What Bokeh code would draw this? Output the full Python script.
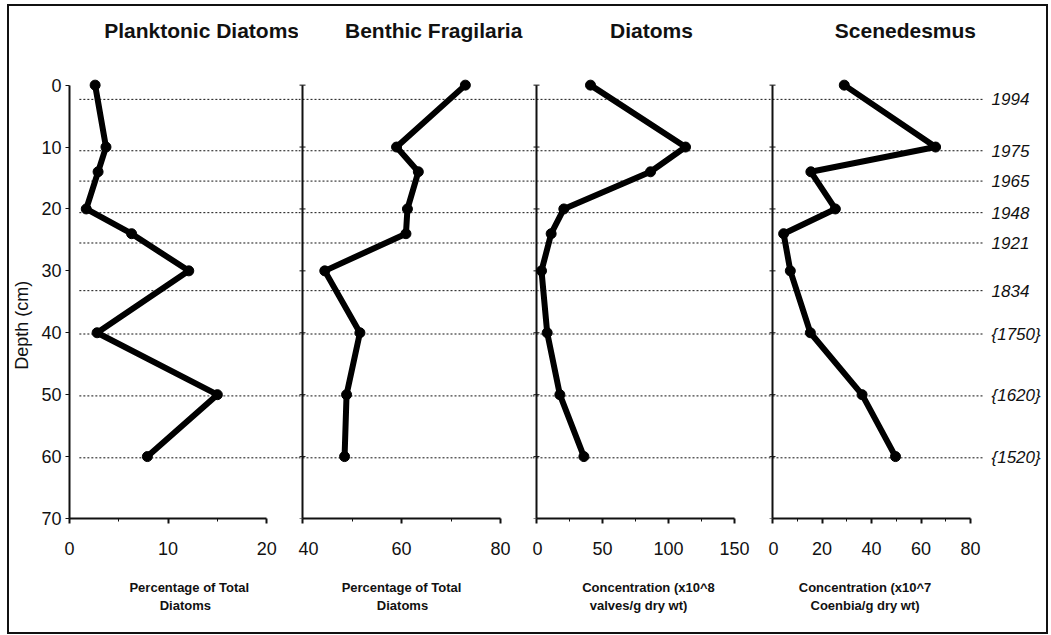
import math

from bokeh.core.properties import value
from bokeh.embed import file_html
from bokeh.layouts import column, row
from bokeh.models import FixedTicker, Range1d, Spacer
from bokeh.plotting import figure
from bokeh.resources import INLINE

# Core sample depths (cm), shared by all four profiles
depth = [0, 10, 14, 20, 24, 30, 40, 50, 60]

# Profile values at each depth
planktonic_pct = [2.6, 3.7, 2.9, 1.7, 6.3, 12.1, 2.8, 15.0, 7.9]
benthic_fragilaria_pct = [72.9, 59.0, 63.4, 61.2, 60.9, 44.5, 51.6, 48.9, 48.5]
diatom_conc = [40.9, 112.9, 86.4, 20.7, 11.1, 3.8, 8.1, 17.7, 35.9]
scenedesmus_conc = [29.0, 65.9, 15.5, 25.4, 4.5, 7.2, 15.3, 36.2, 49.7]

# Dated horizons (depth in cm) and their labels
date_labels = ["1994", "1975", "1965", "1948", "1921", "1834", "{1750}", "{1620}", "{1520}"]
date_depths = [2.3, 10.6, 15.5, 20.6, 25.5, 33.2, 40.2, 50.2, 60.2]

depth_ticks = [0, 10, 20, 30, 40, 50, 60, 70]

titles = ["Planktonic Diatoms", "Benthic Fragilaria", "Diatoms", "Scenedesmus"]
caption_lines = [
    ["Percentage of Total", "Diatoms"],
    ["Percentage of Total", "Diatoms"],
    ["Concentration (x10^8", "valves/g dry wt)"],
    ["Concentration (x10^7", "Coenbia/g dry wt)"],
]
x_major_ticks = [[0, 10, 20], [40, 60, 80], [0, 50, 100, 150], [0, 20, 40, 60, 80]]
x_minor_ticks = [[5, 15], [50, 70], [25, 75, 125], [10, 30, 50, 70]]
series = [planktonic_pct, benthic_fragilaria_pct, diatom_conc, scenedesmus_conc]

FONT = "Liberation Sans"
INK = "#111111"
AXIS_PX = 198                 # on-screen length of each value axis
TOP_H, CAP_H = 560, 66        # panel row / caption row heights
FRAME_BOTTOM = 48             # room for the value axis under each frame
DEPTH_RANGE = (70, -12.7)     # depth grows downward; headroom holds the titles
LEFT_W = 29                   # strip holding the depth axis title

# canvas width / left border per panel
canvas_w = [260, 234, 236, 278]
border_l = [30, 0, 0, 0]
lead_px = [0, 4, 4, 4]        # space between frame edge and the depth axis

# text anchors, in each panel's own data units
title_x = [13.4, 66.5, 87.1, 53.7]
TITLE_Y = -8.8
caption_x = [[12.2, 11.8], [60.0, 60.2], [84.8, 77.3], [37.4, 37.4]]
CAPTION_Y = [21, 39]
grid_ends = [(1.0, None), (None, None), (None, None), (None, 85.3)]
DATE_X = 88.5                 # date column, in the last panel's units


def style_value_axis(ax, i):
    lo, hi = x_major_ticks[i][0], x_major_ticks[i][-1]
    ax.ticker = FixedTicker(ticks=x_major_ticks[i], minor_ticks=x_minor_ticks[i])
    ax.bounds = (lo, hi)
    ax.axis_line_color = INK
    ax.axis_line_width = 2
    ax.major_tick_line_color = INK
    ax.major_tick_line_width = 2
    ax.major_tick_in = 0
    ax.major_tick_out = 5
    ax.minor_tick_line_color = INK
    ax.minor_tick_in = 0
    ax.minor_tick_out = 3
    ax.major_label_text_font = FONT
    ax.major_label_text_font_size = "18px"
    ax.major_label_text_color = INK
    ax.major_label_standoff = 18


def make_panel(i, y_range):
    lo, hi = x_major_ticks[i][0], x_major_ticks[i][-1]
    ppu = AXIS_PX / (hi - lo)
    frame_w = canvas_w[i] - border_l[i]
    start = lo - lead_px[i] / ppu
    x_range = Range1d(start, start + frame_w / ppu)

    p = figure(
        width=canvas_w[i], height=TOP_H,
        x_range=x_range, y_range=y_range,
        output_backend="svg", toolbar_location=None,
        y_axis_location="left" if i == 0 else None,
        min_border_left=border_l[i], min_border_right=0,
        min_border_top=0, min_border_bottom=FRAME_BOTTOM,
        outline_line_color=None, background_fill_color="white",
        border_fill_color="white",
    )
    p.grid.visible = False
    style_value_axis(p.xaxis[0], i)

    if i == 0:
        ya = p.yaxis[0]
        ya.ticker = FixedTicker(ticks=depth_ticks)
        ya.bounds = (0, 70)
        ya.axis_line_color = INK
        ya.axis_line_width = 2
        ya.major_tick_line_color = INK
        ya.major_tick_in = 0
        ya.major_tick_out = 4
        ya.minor_tick_line_color = None
        ya.major_label_text_font = FONT
        ya.major_label_text_font_size = "18px"
        ya.major_label_text_color = INK
        ya.major_label_standoff = 4
    else:
        # unlabelled depth axis at the panel's origin
        p.segment(x0=[lo], x1=[lo], y0=[depth_ticks[0]], y1=[depth_ticks[-1]],
                  line_color=INK, line_width=2)
        p.scatter(x=[lo] * len(depth_ticks), y=depth_ticks, marker="dash",
                  size=6, line_color=INK, line_width=1)

    # dotted dated horizons
    g0, g1 = grid_ends[i]
    x0 = x_range.start if g0 is None else g0
    x1 = x_range.end if g1 is None else g1
    p.segment(x0=[x0] * len(date_depths), x1=[x1] * len(date_depths),
              y0=date_depths, y1=date_depths,
              line_color=INK, line_width=1, line_dash="2 2")

    # profile
    p.line(series[i], depth, line_color="black", line_width=6, line_join="round")
    p.scatter(series[i], depth, size=10, color="black")

    # panel title
    p.text(x=[title_x[i]], y=[TITLE_Y], text=[titles[i]],
           text_font=value(FONT), text_font_style="bold", text_font_size="21px",
           text_align="center", text_baseline="middle", text_color=INK)
    return p


def make_caption(i, panel):
    c = figure(
        width=canvas_w[i], height=CAP_H,
        x_range=panel.x_range, y_range=Range1d(CAP_H, 0),
        output_backend="svg", toolbar_location=None,
        x_axis_location=None, y_axis_location=None,
        min_border_left=border_l[i], min_border_right=0,
        min_border_top=0, min_border_bottom=0,
        outline_line_color=None, border_fill_color="white",
    )
    c.grid.visible = False
    c.text(x=caption_x[i], y=CAPTION_Y, text=caption_lines[i],
           text_font=value(FONT), text_font_style="bold", text_font_size="13px",
           text_align="center", text_baseline="middle", text_color=INK)
    return c


depth_range = Range1d(*DEPTH_RANGE)
panels = [make_panel(i, depth_range) for i in range(4)]
captions = [make_caption(i, panels[i]) for i in range(4)]

# dates beside the last profile
panels[3].text(x=[DATE_X] * len(date_labels), y=date_depths, text=date_labels,
               text_font=value(FONT), text_font_style="italic", text_font_size="17px",
               text_align="left", text_baseline="middle", text_color=INK)

# strip carrying the depth axis title
side = figure(width=LEFT_W, height=TOP_H, x_range=Range1d(0, LEFT_W), y_range=depth_range,
              output_backend="svg", toolbar_location=None,
              x_axis_location=None, y_axis_location=None,
              min_border_left=0, min_border_right=0, min_border_top=0,
              min_border_bottom=FRAME_BOTTOM, outline_line_color=None,
              border_fill_color="white")
side.grid.visible = False
side.text(x=[12], y=[38.8], text=["Depth (cm)"], angle=math.pi / 2,
          text_font=value(FONT), text_font_size="18px",
          text_align="center", text_baseline="middle", text_color=INK)

top_row = row(side, *panels)
bottom_row = row(Spacer(width=LEFT_W, height=CAP_H), *captions)
layout = column(top_row, bottom_row, margin=(4, 0, 0, 7),
                styles={"border": "2px solid #111111"})

open("out.html", "w").write(file_html(layout, INLINE))
